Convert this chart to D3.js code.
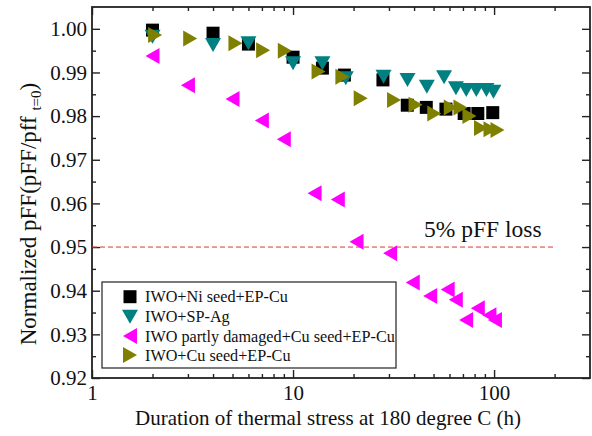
<!DOCTYPE html>
<html><head><meta charset="utf-8">
<script src="https://cdn.jsdelivr.net/npm/d3@7"></script>
<style>body{margin:0;background:#fff}svg{display:block}text{font-family:"Liberation Serif","Times New Roman",serif}</style>
</head><body><svg id="c" width="592" height="436"></svg>
<script>
// Data
const xNi = [2,4,6,10,14,18,28,37,46,57.6,71,83,98.5];
const yNi = [0.9997,0.999,0.9965,0.9935,0.991,0.9894,0.9883,0.9825,0.982,0.9816,0.9806,0.9806,0.9808];
const xAg = [2,4,6,10,14,18.3,28.2,37.1,46.3,56.4,64.6,72.7,81.6,91.6,99.3];
const yAg = [0.9982,0.9963,0.9967,0.9921,0.9921,0.9887,0.989,0.9883,0.9867,0.9889,0.9864,0.986,0.986,0.986,0.9856];
const xDam = [2,3,5,7,9,12.8,16.7,20.7,30.4,39.4,48.1,58.8,64.5,83,72.6,94.8,101];
const yDam = [0.9938,0.9871,0.9839,0.979,0.9747,0.9623,0.9609,0.9512,0.9486,0.9419,0.9388,0.9403,0.9379,0.936,0.9333,0.9344,0.9333];
const xCu = [2.06,3.08,5.17,7.1,9.1,13.4,17.6,21.7,31.8,40.7,50.4,60.9,68,75.4,86.1,96,104];
const yCu = [0.9986,0.9978,0.9967,0.9951,0.995,0.9902,0.989,0.9841,0.9837,0.9826,0.9806,0.982,0.982,0.98,0.9773,0.977,0.9768];
const seriesNames = ["IWO+Ni seed+EP-Cu","IWO+SP-Ag","IWO partly damaged+Cu seed+EP-Cu","IWO+Cu seed+EP-Cu"];
const xMajor = [1,10,100];
const xMinor = [2,3,4,5,6,7,8,9,20,30,40,50,60,70,80,90,200];
const yMajor = [0.92,0.93,0.94,0.95,0.96,0.97,0.98,0.99,1.00];
const yMinor = [0.925,0.935,0.945,0.955,0.965,0.975,0.985,0.995];
const lossLevel = 0.95, lossEnd = 200;

const svg = d3.select("#c");
const L=92,R=590,T=7,B=378;
const x = d3.scaleLog().domain([1,300]).range([L,R]);
const y = d3.scaleLinear().domain([0.92,1.005]).range([B,T]);

function styleAxis(g){g.select(".domain").remove();g.selectAll("line").attr("stroke","#222").attr("stroke-width",1.4);
  g.selectAll("text").attr("font-size",21).attr("fill","#111");}
svg.append("g").attr("transform",`translate(0,${B})`).call(d3.axisBottom(x).tickValues(xMajor).tickSize(-8).tickPadding(7).tickFormat(d3.format("d"))).call(styleAxis);
svg.append("g").attr("transform",`translate(0,${B})`).call(d3.axisBottom(x).tickValues(xMinor).tickSize(-4).tickFormat("")).call(styleAxis);
svg.append("g").attr("transform",`translate(0,${T})`).call(d3.axisTop(x).tickValues(xMajor).tickSize(-8).tickFormat("")).call(styleAxis);
svg.append("g").attr("transform",`translate(0,${T})`).call(d3.axisTop(x).tickValues(xMinor).tickSize(-4).tickFormat("")).call(styleAxis);
svg.append("g").attr("transform",`translate(${L},0)`).call(d3.axisLeft(y).tickValues(yMajor).tickSize(-8).tickPadding(5).tickFormat(d3.format(".2f"))).call(styleAxis);
svg.append("g").attr("transform",`translate(${L},0)`).call(d3.axisLeft(y).tickValues(yMinor).tickSize(-4).tickFormat("")).call(styleAxis);
svg.append("g").attr("transform",`translate(${R},0)`).call(d3.axisRight(y).tickValues(yMajor).tickSize(-8).tickFormat("")).call(styleAxis);
svg.append("g").attr("transform",`translate(${R},0)`).call(d3.axisRight(y).tickValues(yMinor).tickSize(-4).tickFormat("")).call(styleAxis);
svg.append("rect").attr("x",L).attr("y",T).attr("width",R-L).attr("height",B-T).attr("fill","none").attr("stroke","#222").attr("stroke-width",1.8);

// loss line
svg.append("line").attr("x1",x(1)).attr("x2",x(lossEnd)).attr("y1",y(lossLevel)).attr("y2",y(lossLevel))
  .attr("stroke","#e8332f").attr("stroke-width",1).attr("stroke-dasharray","5,3");
svg.append("text").attr("x",424).attr("y",y(lossLevel)-10).attr("font-size",23.5).attr("fill","#111").text("5% pFF loss");

// markers
const shapes = {
  square: "M-6.5,-6.5H6.5V6.5H-6.5Z",
  down: "M-8,-7H8L0,7Z",
  left: "M-7,0L7,-8V8Z",
  right: "M7,0L-7,-8V8Z"
};
const series = [
  {xs:xNi,ys:yNi,shape:"square",color:"#000000"},
  {xs:xAg,ys:yAg,shape:"down",color:"#008080"},
  {xs:xDam,ys:yDam,shape:"left",color:"#ff00ff"},
  {xs:xCu,ys:yCu,shape:"right",color:"#808000"}
];
series.forEach(s=>{
  svg.append("g").selectAll("path").data(s.xs.map((v,i)=>[v,s.ys[i]])).join("path")
    .attr("d",shapes[s.shape]).attr("transform",d=>`translate(${x(d[0])},${y(d[1])})`)
    .attr("fill",s.color);
});

// y label
const yl = svg.append("text").attr("transform","translate(36,214) rotate(-90)").attr("text-anchor","middle").attr("font-size",23).attr("fill","#111");
yl.append("tspan").text("Normalized pFF(pFF/pff ");
yl.append("tspan").attr("font-size",15).attr("dy",5).text("t=0");
yl.append("tspan").attr("dy",-5).text(")");
// x label
svg.append("text").attr("x",328).attr("y",425).attr("text-anchor","middle").attr("font-size",21).attr("fill","#111").text("Duration of thermal stress at 180 degree C (h)");

// legend
const lg = svg.append("g");
lg.append("rect").attr("x",102).attr("y",282).attr("width",294).attr("height",86).attr("fill","#fff").attr("stroke","#222").attr("stroke-width",1.2);
const rowsY=[296.7,316.7,336,355];
series.forEach((s,i)=>{
  lg.append("path").attr("d",shapes[s.shape]).attr("transform",`translate(130,${rowsY[i]})`).attr("fill",s.color);
  lg.append("text").attr("x",145).attr("y",rowsY[i]+5.5).attr("font-size",16.2).attr("fill","#111").text(seriesNames[i]);
});
</script></body></html>
